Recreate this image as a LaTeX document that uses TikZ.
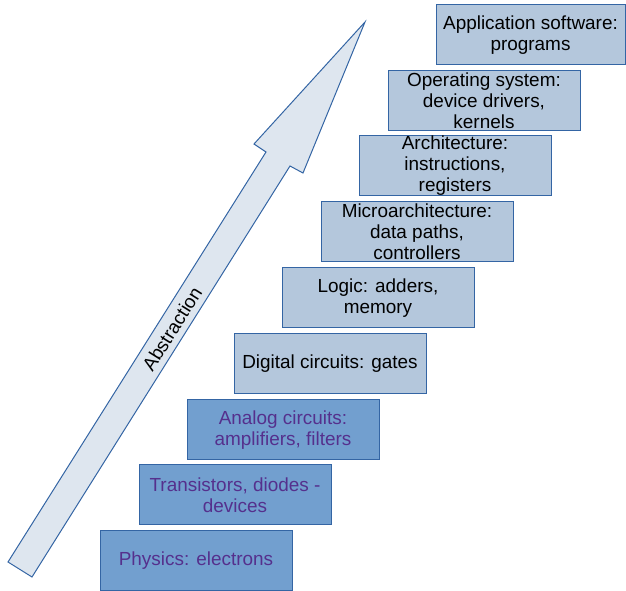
\documentclass[tikz,border=0pt]{standalone}
\usepackage{fontspec}
\setmainfont{Liberation Sans}
\definecolor{layerline}{HTML}{3465A4}
\definecolor{layerlight}{HTML}{B4C7DC}
\definecolor{layerdark}{HTML}{729FCF}
\definecolor{layertext}{HTML}{55308D}
\definecolor{arrowfill}{HTML}{DEE6EF}
\tikzset{
	layer/.style={draw=layerline, fill=layerlight, line width=0.75pt, inner sep=0pt,
		minimum width=144pt, minimum height=45pt, align=center,
		font=\fontsize{14.2}{15.8}\selectfont},
	lowlayer/.style={layer, fill=layerdark, text=layertext}
}
\begin{document}
\begin{tikzpicture}[x=0.75pt, y=-0.75pt]
			%%%%% START %%%%%
			\useasboundingbox (0, 0) rectangle (626, 591);
			
			\draw[draw=layerline, fill=arrowfill, line width=0.75pt, line join=miter]
				(8, 562) -- (266, 152) -- (254, 144) -- (365, 22) -- (303, 173) -- (290, 166) -- (32, 577) -- cycle;
			\node[rotate=57.85, font=\fontsize{14.2}{15.8}\selectfont] (abstraction) at (172, 329) {Abstraction};
			
			\node[layer, minimum width=141.75pt] (apps) at (530.5, 35) {Application software:\\programs};
			\node[layer] (os) at (484, 101) {Operating system:\\device drivers,\\kernels};
			\node[layer] (arch) at (455, 166) {Architecture:\\instructions,\\registers};
			\node[layer] (uarch) at (417, 232) {Microarchitecture:\\data paths,\\controllers};
			\node[layer] (logic) at (378, 298) {Logic: adders,\\memory};
			\node[layer] (digital) at (330, 364) {Digital circuits: gates};
			
			\node[lowlayer] (analog) at (283, 430) {Analog circuits:\\amplifiers, filters};
			\node[lowlayer] (devices) at (235, 495) {Transistors, diodes -\\devices};
			\node[lowlayer] (physics) at (196, 561) {Physics: electrons};
			%%%%% END %%%%%
\end{tikzpicture}
\end{document}
